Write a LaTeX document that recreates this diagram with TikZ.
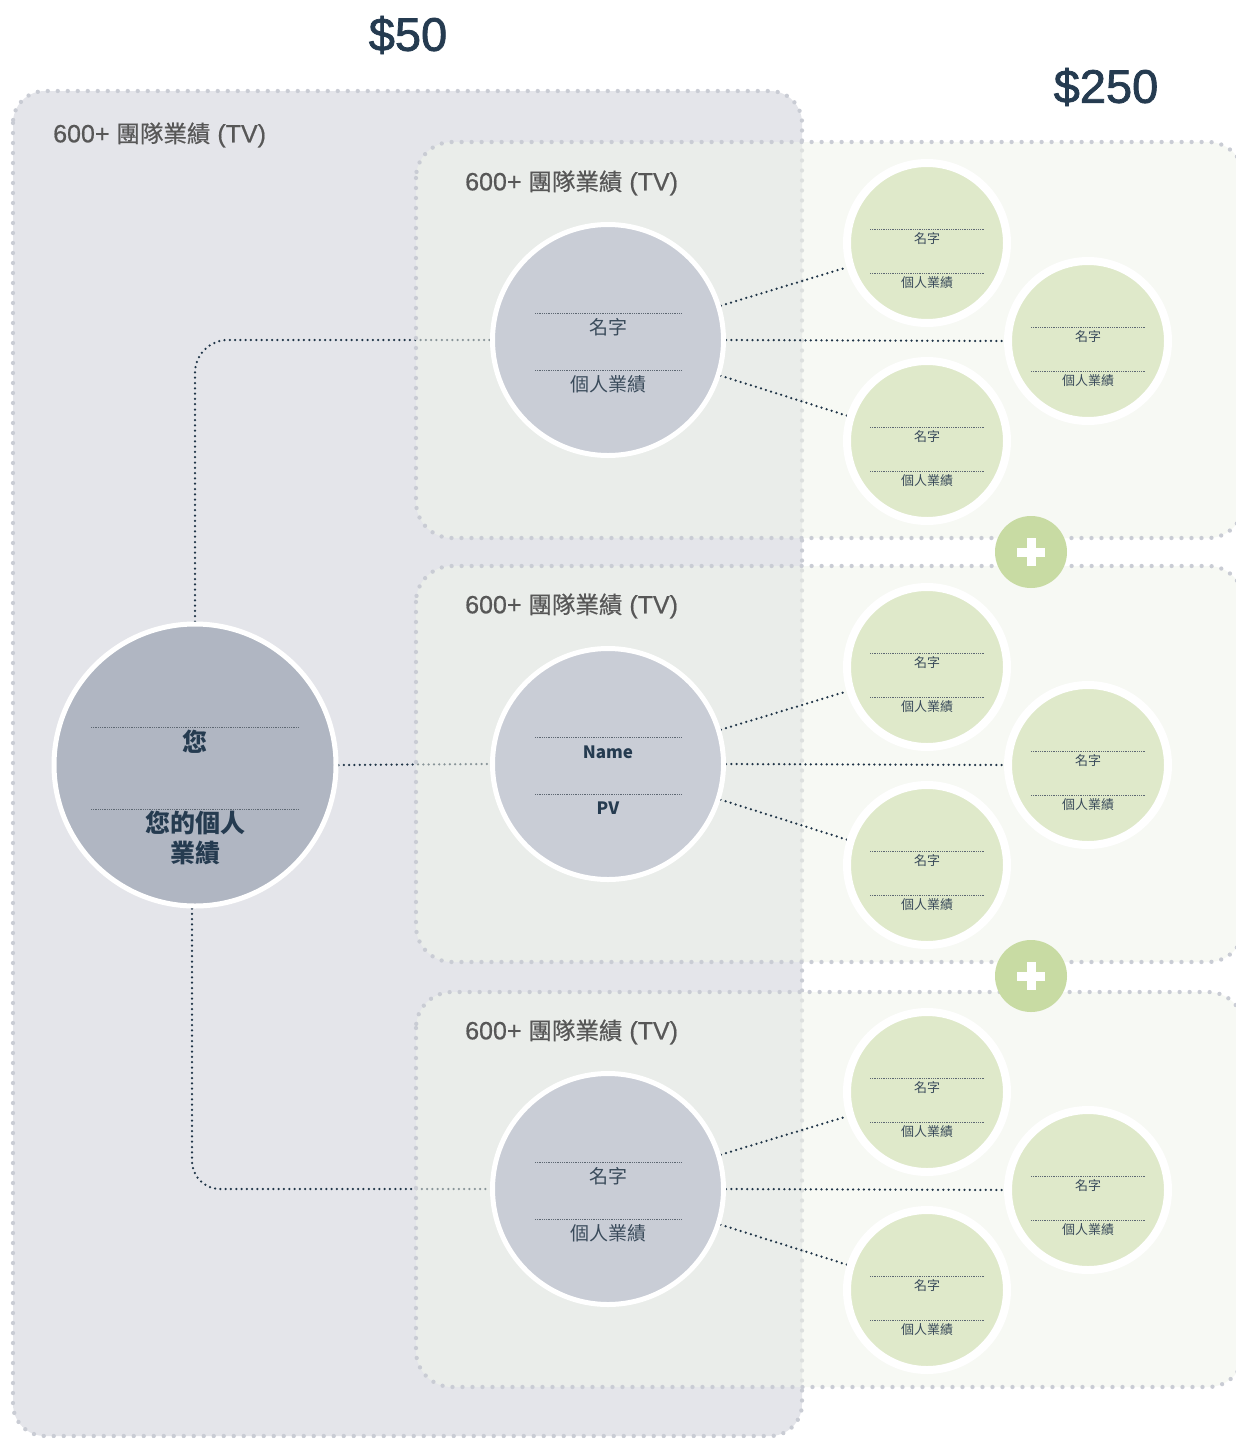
\documentclass[tikz,border=0pt]{standalone}
\usepackage{fontspec}
\setmainfont{Noto Sans CJK TC}
\newfontfamily\labfont[FakeBold=0.6]{Noto Sans CJK TC}
\newfontfamily\latlab[FakeBold=0.6]{Liberation Sans}
\newfontfamily\pricefont[FakeBold=1.6]{Liberation Sans}
\usetikzlibrary{calc}
\pgfdeclarelayer{LA}\pgfdeclarelayer{LB}\pgfdeclarelayer{LC}\pgfdeclarelayer{LD}
\pgfsetlayers{LA,LB,LC,LD,main}
\definecolor{navy}{HTML}{253B50}
\definecolor{conncol}{HTML}{1F3447}
\definecolor{labelgray}{HTML}{575757}
\definecolor{outerfill}{HTML}{E4E5EA}
\definecolor{innerfill}{HTML}{F1F5EA}
\definecolor{boxdot}{HTML}{C9CCD4}
\definecolor{mainfill}{HTML}{B0B6C2}
\definecolor{midfill}{HTML}{C9CDD6}
\definecolor{greenfill}{HTML}{DFE9CA}
\definecolor{plusfill}{HTML}{C8DBA3}
\definecolor{circtext}{HTML}{3A4B5B}
\definecolor{sepgray}{HTML}{5E6873}
\newcommand\gcirc[3]{%
  \node[greenc] (#1) at (#2,#3) {};
  \draw[sepline] ($(#1)+(-57,-14)$) -- ($(#1)+(57,-14)$);
  \draw[sepline] ($(#1)+(-57,30)$) -- ($(#1)+(57,30)$);
  \node[gtext] (#1n) at ($(#1)+(0,-4)$) {名字};
  \node[gtext] (#1p) at ($(#1)+(0,40)$) {個人業績};
}
\newcommand\mcirc[5]{%
  \node[midc] (#1) at (#2,#3) {};
  \draw[sepline] ($(#1)+(-73,-27)$) -- ($(#1)+(73,-27)$);
  \draw[sepline] ($(#1)+(-73,30)$) -- ($(#1)+(73,30)$);
  \node[mtext] (#1n) at ($(#1)+(0,-13)$) {#4};
  \node[mtext] (#1p) at ($(#1)+(0,44)$) {#5};
}
\newcommand\pluscirc[3]{%
  \node[plusc] (#1) at (#2,#3) {};
  \fill[white] ($(#1)+(-14,-4.5)$) rectangle ($(#1)+(14,4.5)$);
  \fill[white] ($(#1)+(-4.5,-14)$) rectangle ($(#1)+(4.5,14)$);
}
\newcommand\boxlabtext{{\latlab\fontsize{25}{28}\selectfont 600+ }團隊業績{\latlab\fontsize{25}{28}\selectfont\ (TV)}}
\begin{document}
\begin{tikzpicture}[x=1pt,y=-1pt,
  conn/.style={draw=conncol, line width=2.5, line cap=round, dash pattern=on 0pt off 5.3pt},
  boxdots/.style={draw=boxdot, line width=4.3, line cap=round, dash pattern=on 0pt off 10pt},
  sepline/.style={draw=sepgray, line width=0.8, dash pattern=on 0.8pt off 1pt},
  mainc/.style={circle, minimum size=282, inner sep=0, fill=mainfill, draw=white, line width=5},
  midc/.style={circle, minimum size=231, inner sep=0, fill=midfill, draw=white, line width=5},
  greenc/.style={circle, minimum size=160, inner sep=0, fill=greenfill, draw=white, line width=8},
  plusc/.style={circle, minimum size=72, inner sep=0, fill=plusfill},
  gtext/.style={inner sep=0, text=circtext, font=\fontsize{13}{15}\selectfont},
  mtext/.style={inner sep=0, text=circtext, font=\fontsize{19}{22}\selectfont},
  boxlabel/.style={inner sep=0, anchor=west, text=labelgray, font=\labfont\fontsize{23.5}{27}\selectfont},
  price/.style={inner sep=0, text=navy, font=\pricefont\fontsize{47}{55}\selectfont},
]
\useasboundingbox (0,0) rectangle (1236,1438);

\begin{pgfonlayer}{LA}
  \fill[white] (0,0) rectangle (1236,1438);
  \path[boxdots, fill=outerfill, rounded corners=32] (13,91) rectangle (802,1436);
\end{pgfonlayer}
\begin{pgfonlayer}{LC}
  \foreach \t/\b in {142/538, 566/962, 992/1387}{
    \path[boxdots, fill=innerfill, fill opacity=0.5, rounded corners=36] (416,\t) rectangle (1244,\b);
  }
\end{pgfonlayer}

% prices and labels
\node[price] (p50) at (408,35) {\$50};
\node[price] (p250) at (1106,87) {\$250};
\node[boxlabel] (lab0) at (53,135) {\boxlabtext};
\node[boxlabel] (lab1) at (465,183) {\boxlabtext};
\node[boxlabel] (lab2) at (465,606) {\boxlabtext};
\node[boxlabel] (lab3) at (465,1032) {\boxlabtext};

% main circle
\node[mainc] (you) at (195,765) {};
\draw[sepline] ($(you)+(-104,-38)$) -- ($(you)+(104,-38)$);
\draw[sepline] ($(you)+(-104,44)$) -- ($(you)+(104,44)$);
\node[inner sep=0, text=navy, font=\fontsize{25}{30}\selectfont\bfseries] (youn) at ($(you)+(0,-23)$) {您};
\node[inner sep=0, text=navy, align=center, font=\fontsize{25}{30}\selectfont\bfseries] (youp) at ($(you)+(0,73)$) {您的個人\\業績};

% mid circles
\mcirc{m1}{608}{340}{名字}{個人業績}
\node[midc] (m2) at (608,764) {};
\draw[sepline] ($(m2)+(-73,-27)$) -- ($(m2)+(73,-27)$);
\draw[sepline] ($(m2)+(-73,30)$) -- ($(m2)+(73,30)$);
\node[inner sep=0, text=navy, font=\fontsize{17}{20}\selectfont\bfseries] (m2n) at ($(m2)+(0,-12)$) {Name};
\node[inner sep=0, text=navy, font=\fontsize{17}{20}\selectfont\bfseries] (m2p) at ($(m2)+(0,44)$) {PV};
\mcirc{m3}{608}{1189}{名字}{個人業績}

% green circles
\gcirc{g11}{927}{243}
\gcirc{g12}{1088}{341}
\gcirc{g13}{927}{441}
\gcirc{g21}{927}{667}
\gcirc{g22}{1088}{765}
\gcirc{g23}{927}{865}
\gcirc{g31}{927}{1092}
\gcirc{g32}{1088}{1190}
\gcirc{g33}{927}{1290}

% plus
\pluscirc{pl1}{1031}{552}
\pluscirc{pl2}{1031}{976}

% connectors
\begin{pgfonlayer}{LB}
  \draw[conn, rounded corners=33] (you.north) |- (m1.west);
  \draw[conn, rounded corners=28] ([xshift=-3]you.south) |- (m3.west);
  \draw[conn] (you.east) -- (m2.west);
\end{pgfonlayer}
\begin{pgfonlayer}{LD}
  \foreach \m/\g in {1/1,2/2,3/3}{
    \draw[conn] (m\m) -- (g\g1);
    \draw[conn] (m\m.east) -- (g\g2.west);
    \draw[conn] (m\m) -- (g\g3);
  }
\end{pgfonlayer}
\end{tikzpicture}
\end{document}
